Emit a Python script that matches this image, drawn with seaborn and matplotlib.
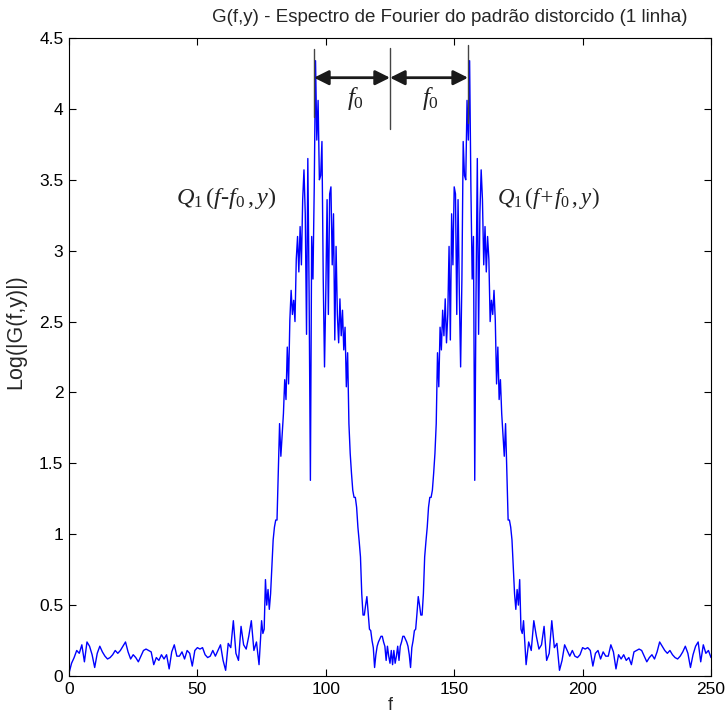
import numpy as np
import pandas as pd
import matplotlib
matplotlib.use("Agg")
import matplotlib.pyplot as plt
import seaborn as sns

# Log(|G(f,y)|).
# ruido de fundo: passo 1, zona dos lobulos: passo 0.5
f_noise_left = list(range(0, 76))
g_noise_left = [0.02, 0.09, 0.13, 0.18, 0.16, 0.22, 0.10, 0.24, 0.21, 0.15,
                0.06, 0.16, 0.21, 0.17, 0.14, 0.12, 0.13, 0.15, 0.18, 0.16,
                0.18, 0.21, 0.24, 0.17, 0.12, 0.15, 0.13, 0.10, 0.14, 0.18,
                0.19, 0.18, 0.17, 0.08, 0.13, 0.11, 0.15, 0.12, 0.15, 0.05,
                0.17, 0.22, 0.14, 0.14, 0.17, 0.12, 0.18, 0.16, 0.07, 0.18,
                0.20, 0.19, 0.20, 0.15, 0.13, 0.14, 0.18, 0.14, 0.18, 0.22,
                0.11, 0.04, 0.23, 0.20, 0.39, 0.16, 0.11, 0.35, 0.22, 0.19,
                0.28, 0.39, 0.18, 0.24, 0.08, 0.39]

f_lobe_left = list(np.arange(75.5, 126.5, 0.5))
g_lobe_left = [0.30, 0.33, 0.68, 0.50, 0.61, 0.47, 0.58, 0.77, 0.96,
               1.05, 1.10, 1.10, 1.44, 1.78, 1.55, 1.70, 1.85, 2.09, 1.95,
               2.32, 2.06, 2.51, 2.72, 2.55, 2.65, 2.50, 2.94, 3.10, 2.85,
               3.17, 2.90, 3.36, 3.57, 3.26, 2.41, 3.65, 2.70, 1.38, 3.10,
               2.80, 3.45, 4.34, 3.78, 4.06, 3.50, 3.53, 3.77, 2.80, 2.18,
               2.70, 3.36, 2.55, 3.40, 3.45, 2.90, 3.26, 2.37, 3.03, 2.55,
               2.35, 2.66, 2.40, 2.58, 2.30, 2.46, 2.04, 2.28, 1.78, 1.57,
               1.43, 1.31, 1.26, 1.26, 1.19, 1.05, 0.95, 0.84, 0.58, 0.43,
               0.43, 0.50, 0.56, 0.44, 0.33, 0.32, 0.25, 0.20, 0.06, 0.15,
               0.21, 0.24, 0.26, 0.28, 0.28, 0.24, 0.21, 0.11, 0.21, 0.14,
               0.09, 0.18, 0.08]

f_lobe_right = list(np.arange(126.5, 177.0, 0.5))
g_lobe_right = [0.18, 0.09, 0.14, 0.21, 0.11, 0.21, 0.24, 0.28, 0.28, 0.26,
                0.24, 0.21, 0.15, 0.06, 0.20, 0.25, 0.32, 0.33, 0.44, 0.56,
                0.50, 0.43, 0.43, 0.58, 0.84, 0.95, 1.05, 1.19, 1.26, 1.26,
                1.31, 1.43, 1.57, 1.78, 2.28, 2.04, 2.46, 2.30, 2.58, 2.40,
                2.66, 2.35, 2.55, 3.03, 2.37, 3.26, 2.90, 3.45, 3.40, 2.55,
                3.36, 2.70, 2.18, 2.80, 3.77, 3.53, 3.50, 4.06, 3.78, 4.34,
                3.45, 2.80, 3.10, 1.38, 2.70, 3.65, 2.41, 3.26, 3.57, 3.36,
                2.90, 3.17, 2.85, 3.10, 2.94, 2.50, 2.65, 2.55, 2.72, 2.51,
                2.06, 2.32, 1.95, 2.09, 1.85, 1.70, 1.55, 1.78, 1.44, 1.10,
                1.10, 1.05, 0.96, 0.77, 0.58, 0.47, 0.61, 0.50, 0.68, 0.33,
                0.30]

f_noise_right = list(range(177, 251))
g_noise_right = [0.39, 0.08, 0.24, 0.18, 0.39, 0.28, 0.19, 0.22, 0.35, 0.11,
                 0.16, 0.39, 0.20, 0.23, 0.04, 0.11, 0.22, 0.18, 0.14, 0.18,
                 0.14, 0.13, 0.15, 0.20, 0.19, 0.20, 0.18, 0.07, 0.16, 0.18,
                 0.12, 0.17, 0.14, 0.14, 0.22, 0.17, 0.05, 0.15, 0.12, 0.15,
                 0.11, 0.13, 0.08, 0.17, 0.18, 0.19, 0.18, 0.14, 0.10, 0.13,
                 0.15, 0.12, 0.17, 0.24, 0.21, 0.18, 0.16, 0.18, 0.15, 0.13,
                 0.12, 0.14, 0.17, 0.21, 0.16, 0.06, 0.15, 0.21, 0.24, 0.10,
                 0.22, 0.16, 0.18, 0.13]

x_ticks = [0, 50, 100, 150, 200, 250]
y_ticks = [0, 0.5, 1, 1.5, 2, 2.5, 3, 3.5, 4, 4.5]
y_tick_labels = ["0", "0.5", "1", "1.5", "2", "2.5", "3", "3.5", "4", "4.5"]

df = pd.DataFrame({
    "f": f_noise_left + f_lobe_left + f_lobe_right + f_noise_right,
    "g": g_noise_left + g_lobe_left + g_lobe_right + g_noise_right,
})

sns.set_style("ticks")
plt.rcParams["font.family"] = ["Liberation Sans", "DejaVu Sans"]
plt.rcParams["mathtext.fontset"] = "custom"
plt.rcParams["mathtext.it"] = "Liberation Serif:italic"
plt.rcParams["mathtext.rm"] = "Liberation Serif"

fig = plt.figure(figsize=(7.28, 7.13), dpi=100)
ax = fig.add_axes([69 / 728, 1 - 676 / 713, 642 / 728, 638 / 713])

sns.lineplot(data=df, x="f", y="g", ax=ax, color="#0000ff", lw=1.0,
             estimator=None, sort=False)

ax.set_xlim(0, 250)
ax.set_ylim(0, 4.5)
ax.set_xticks(x_ticks)
ax.set_yticks(y_ticks)
ax.set_yticklabels(y_tick_labels)
ax.tick_params(direction="in", top=True, right=True, length=5,
               labelsize=12.5, colors="black", pad=4)
for s in ax.spines.values():
    s.set_linewidth(0.8)
    s.set_color("black")

ax.set_xlabel("f", fontsize=13, labelpad=0)
ax.set_ylabel("")
fig.text(16 / 728, 1 - 332 / 713, "Log(|G(f,y)|)", rotation=90,
         ha="center", va="center", fontsize=15.5)
fig.text(450 / 728, 1 - 18 / 713, "G(f,y) - Espectro de Fourier do padrão distorcido (1 linha)",
         ha="center", va="center", fontsize=13.5)

# marcas de f0
for xv, y0, y1 in [(95.4, 3.94, 4.42), (125, 3.86, 4.43), (155.4, 3.9, 4.45)]:
    ax.plot([xv, xv], [y0, y1], color="#444444", lw=1.0)
for xa, xb in [(95.4, 125), (125, 155.4)]:
    ax.annotate("", xy=(xb, 4.22), xytext=(xa, 4.22),
                arrowprops=dict(arrowstyle="<|-|>", color="#1a1a1a", lw=2,
                                mutation_scale=22, shrinkA=0, shrinkB=0))
for xt in [111.4, 140.6]:
    ax.text(xt, 4.07, r"$f_{\mathit{0}}$", fontsize=18, ha="center", va="center",
            color="#222222")

ax.text(61.3, 3.37, r"$Q_{\mathit{1}}\,(f$-$f_{\mathit{0}}\,,y)$", fontsize=17.5,
        ha="center", va="center", color="#222222",
        family="Liberation Serif", style="italic")
ax.text(186.5, 3.37, r"$Q_{\mathit{1}}\,(f$+$f_{\mathit{0}}\,,y)$", fontsize=16.5,
        ha="center", va="center", color="#222222",
        family="Liberation Serif", style="italic")

fig.savefig("out.png", dpi=100, facecolor="white")
